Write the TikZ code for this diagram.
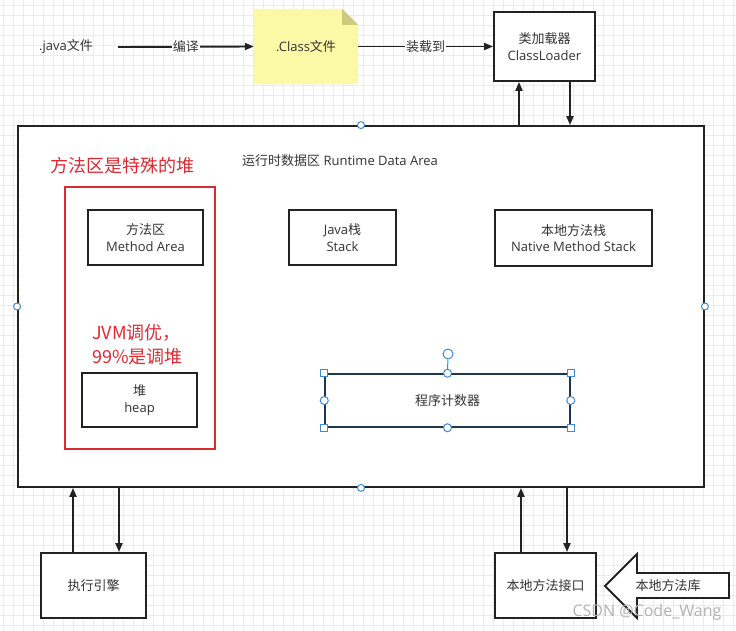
\documentclass[tikz,border=0pt]{standalone}
\usepackage{fontspec}
\setmainfont{Open Sans}
\newfontfamily\cjk{Noto Sans CJK SC}
\usetikzlibrary{arrows.meta,calc}
\definecolor{txt}{HTML}{333333}
\definecolor{boxc}{HTML}{222222}
\definecolor{gridc}{HTML}{EBEBEB}
\definecolor{redc}{HTML}{DD2A32}
\definecolor{notec}{HTML}{FBF8A6}
\definecolor{foldc}{HTML}{CFCB7E}
\definecolor{handc}{HTML}{3C8DD6}
\definecolor{pcc}{HTML}{1F3650}
\newcommand\fs{\fontsize{13}{16.5}\selectfont}
\newcommand\fr{\cjk\fontsize{18}{23}\selectfont}
\begin{document}
\begin{tikzpicture}[x=1pt,y=-1pt,
  box/.style={draw=boxc, line width=1.8pt, fill=white, text=txt, align=center, inner sep=0pt, font=\fs},
  lbl/.style={text=txt, font=\fs, inner sep=1pt},
  elbl/.style={text=txt, font=\fs, fill=white, inner sep=1pt},
  arr/.style={draw=boxc, line width=1.9pt, -{Triangle[length=9pt,width=7pt]}},
  handle/.style={circle, draw=handc, fill=white, line width=1pt, minimum size=8pt, inner sep=0pt},
  sqhandle/.style={rectangle, draw=handc, fill=white, line width=1pt, minimum size=7pt, inner sep=0pt},
  redtxt/.style={text=redc, font=\fr, inner sep=0pt}]
\useasboundingbox (0,0) rectangle (736,631);
\fill[white] (0,0) rectangle (736,631);
\foreach \i in {3,13,...,733} \draw[gridc, line width=0.6pt] (\i,0) -- (\i,631);
\foreach \j in {5,15,...,631} \draw[gridc, line width=0.6pt] (0,\j) -- (736,\j);

% top row
\node[lbl] (java) at (66,47) {.java{\cjk 文件}};
\node[minimum width=104pt, minimum height=75pt, inner sep=0pt] (note) at (306,46.5) {};
\fill[notec] (note.south west) -- (note.north west) -- ([xshift=-16pt]note.north east)
  -- ([yshift=-16pt]note.north east) -- (note.south east) -- cycle;
\fill[foldc] ([xshift=-16pt]note.north east) -- ([yshift=-16pt]note.north east)
  -- ([xshift=-16pt,yshift=-16pt]note.north east) -- cycle;
\node[lbl] at (note.center) {.Class{\cjk 文件}};
\node[box, minimum width=101pt, minimum height=69pt] (cl) at (544.5,46.5) {{\cjk 类加载器}\\ClassLoader};

\coordinate (ja) at (118,47);
\draw[arr] (ja) -- node[elbl] {\cjk 编译} (note.west);
\draw[arr] (note.east) -- node[elbl] {\cjk 装载到} (cl.west);

% main area
\node[box, minimum width=686pt, minimum height=361pt] (main) at (361,306.5) {};
\node[lbl, anchor=west] (rt) at (241,161) {{\cjk 运行时数据区} Runtime Data Area};

\coordinate (c1) at (519,0);
\coordinate (c2) at (570,0);
\draw[arr] (main.north -| c1) -- (cl.south -| c1);
\draw[arr] (cl.south -| c2) -- (main.north -| c2);

% red region
\node[redtxt] (rt1) at (122,166) {方法区是特殊的堆};
\node[draw=redc, line width=1.5pt, minimum width=150pt, minimum height=262pt] (redbox) at (140,318) {};
\node[box, minimum width=115pt, minimum height=55pt] (ma) at (145.5,237.5) {{\cjk 方法区}\\Method Area};
\node[redtxt, align=left, anchor=west, font=\cjk\fontsize{18}{24}\selectfont] (rt2) at (92,345) {JVM调优，\\99\%是调堆};
\node[box, minimum width=115pt, minimum height=54pt] (heap) at (139.5,400) {{\cjk 堆}\\heap};

\node[box, minimum width=107pt, minimum height=55pt] (js) at (342.5,237.5) {Java{\cjk 栈}\\Stack};
\node[box, minimum width=157pt, minimum height=56pt] (nms) at (573.5,238) {{\cjk 本地方法栈}\\Native Method Stack};

% program counter (selected)
\node[box, draw=pcc, line width=1.5pt, minimum width=245pt, minimum height=53pt] (pc) at (447.5,400.5) {\cjk 程序计数器};
\node[handle, minimum size=10pt] (rot) at (448,354) {};
\draw[handc, line width=1pt] (rot) -- (pc.north);
\foreach \a in {north west,north east,south west,south east} \node[sqhandle] at (pc.\a) {};
\foreach \a in {north,south,west,east} \node[handle] at (pc.\a) {};

% main handles
\foreach \a in {north,south,west,east} \node[handle, minimum size=7pt] at (main.\a) {};

% bottom
\node[box, minimum width=105pt, minimum height=65pt] (ee) at (93.5,585.5) {\cjk 执行引擎};
\node[box, minimum width=101pt, minimum height=65pt] (nmi) at (545.5,585.5) {\cjk 本地方法接口};
\coordinate (b1) at (73,0);
\coordinate (b2) at (119,0);
\coordinate (b3) at (521,0);
\coordinate (b4) at (567,0);
\draw[arr] (ee.north -| b1) -- (main.south -| b1);
\draw[arr] (main.south -| b2) -- (ee.north -| b2);
\draw[arr] (nmi.north -| b3) -- (main.south -| b3);
\draw[arr] (main.south -| b4) -- (nmi.north -| b4);

% big arrow (native library)
\draw[boxc, line width=1.8pt, fill=white, line join=miter]
  (605,586) -- (637,554) -- (637,573) -- (729,573) -- (729,598) -- (637,598) -- (637,618) -- cycle;
\node[lbl] (lib) at (668,586) {\cjk 本地方法库};

% watermark
\node[text=gray!60, font=\fontsize{16}{18}\selectfont, inner sep=0pt] (wm) at (647,612) {CSDN @Code\_Wang};
\end{tikzpicture}
\end{document}
